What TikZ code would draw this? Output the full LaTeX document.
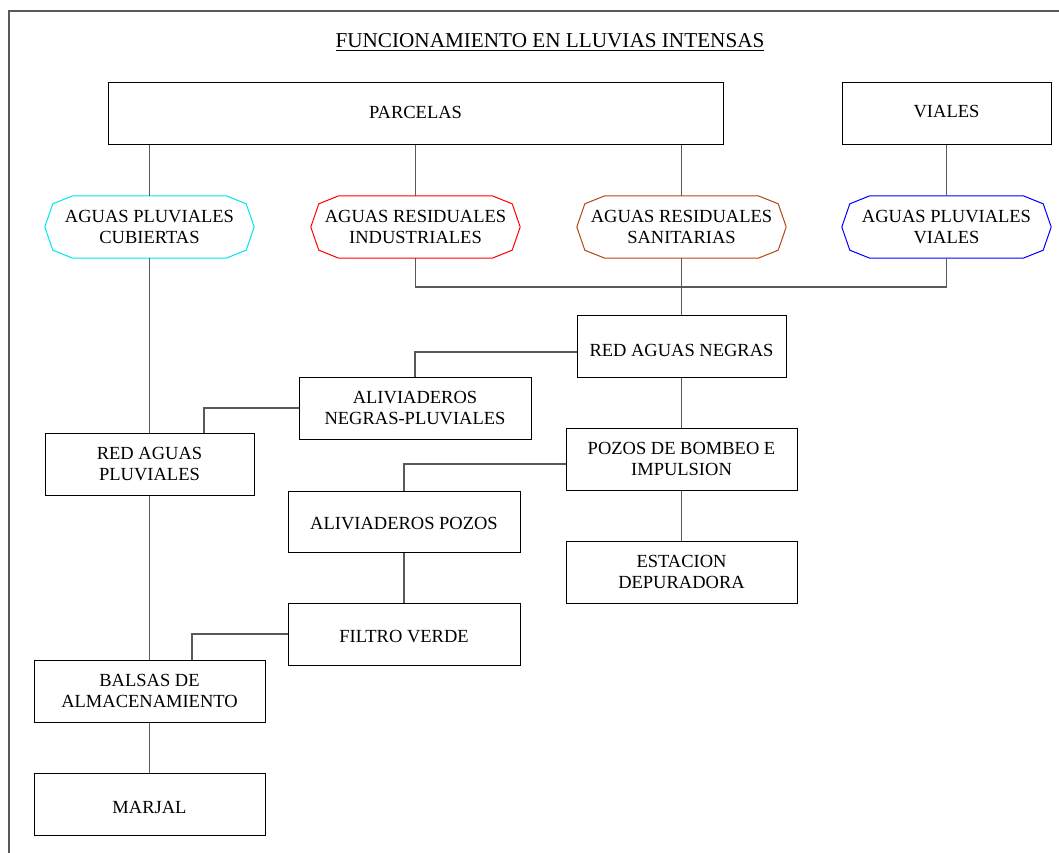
\documentclass[tikz,border=0pt]{standalone}
\usepackage{fontspec}
\setmainfont{Liberation Serif}
\usetikzlibrary{calc}
\definecolor{brownish}{RGB}{180,70,20}
\definecolor{lightcyan}{RGB}{0,230,240}
\newcommand{\mvtxt}[2]{\raisebox{#1}[\height][\depth]{#2}}
\tikzset{
  box/.style={draw=black, line width=1pt, inner sep=0pt, align=center,
    font=\fontsize{18.5}{21}\selectfont},
  octo/.style={draw=none, inner sep=0pt, align=center, minimum width=209pt, minimum height=62pt,
    font=\fontsize{18.5}{21}\selectfont},
  conn/.style={draw=black!65, line width=1.1pt},
  frame/.style={draw=black!65, line width=1.1pt},
  octoline/.style={line width=1pt}
}
\begin{document}
\begin{tikzpicture}[x=1pt,y=-1pt]
\useasboundingbox (0,0) rectangle (1059,853);
\draw[frame] (9,853) -- (9,11) -- (1059,11);

\node[anchor=base, font=\fontsize{21.2}{24}\selectfont] (title) at (550,48) {\underline{FUNCIONAMIENTO EN LLUVIAS INTENSAS}};

% top row
\node[box, minimum width=615pt, minimum height=62pt] (parc) at (415.5,114) {\mvtxt{2pt}{PARCELAS}};
\node[box, minimum width=209pt, minimum height=62pt] (vial) at (946.5,114) {\mvtxt{2pt}{VIALES}};

% octagons
\node[octo] (apc) at (149.5,227) {AGUAS PLUVIALES\\CUBIERTAS};
\node[octo] (ari) at (415.5,227) {AGUAS RESIDUALES\\INDUSTRIALES};
\node[octo] (ars) at (681.5,227) {AGUAS RESIDUALES\\SANITARIAS};
\node[octo] (apv) at (946.5,227) {AGUAS PLUVIALES\\VIALES};
\foreach \n/\c in {apc/lightcyan, ari/red, ars/brownish, apv/blue}
  \draw[octoline, draw=\c] ($(\n.north west)+(28,0)$) -- ($(\n.north west)+(8,8)$) -- (\n.west)
    -- ($(\n.south west)+(8,-8)$) -- ($(\n.south west)+(28,0)$) -- ($(\n.south east)+(-28,0)$)
    -- ($(\n.south east)+(-8,-8)$) -- (\n.east) -- ($(\n.north east)+(-8,8)$)
    -- ($(\n.north east)+(-28,0)$) -- cycle;

% other boxes
\node[box, minimum width=209pt, minimum height=62pt] (ran) at (681.5,346) {\mvtxt{-4pt}{RED AGUAS NEGRAS}};
\node[box, minimum width=232pt, minimum height=62pt] (anp) at (415,408) {ALIVIADEROS\\NEGRAS-PLUVIALES};
\node[box, minimum width=209pt, minimum height=62pt] (rap) at (149.5,464) {RED AGUAS\\PLUVIALES};
\node[box, minimum width=231pt, minimum height=62pt] (poz) at (681.5,459) {POZOS DE BOMBEO E\\IMPULSION};
\node[box, minimum width=232pt, minimum height=61pt] (alp) at (404,521.5) {\mvtxt{-2pt}{ALIVIADEROS POZOS}};
\node[box, minimum width=231pt, minimum height=62pt] (est) at (681.5,572) {ESTACION\\DEPURADORA};
\node[box, minimum width=232pt, minimum height=62pt] (fil) at (404,634) {\mvtxt{-3pt}{FILTRO VERDE}};
\node[box, minimum width=231pt, minimum height=62pt] (bal) at (149.5,691) {BALSAS DE\\ALMACENAMIENTO};
\node[box, minimum width=231pt, minimum height=62pt] (mar) at (149.5,804) {\mvtxt{-3pt}{MARJAL}};

% connectors
\coordinate (bus) at (0,287);
\draw[conn] (apc.north |- parc.south) -- (apc.north);
\draw[conn] (ari.north |- parc.south) -- (ari.north);
\draw[conn] (ars.north |- parc.south) -- (ars.north);
\draw[conn] (vial.south) -- (apv.north);
\draw[conn] (ari.south) |- (bus -| apv.south) -- (apv.south);
\draw[conn] (ars.south) -- (ran.north);
\draw[conn] ([yshift=-6pt]ran.west) -| (anp.north);
\draw[conn] (anp.west) -| ($(rap.north)+(54.5,0)$);
\draw[conn] (apc.south) -- (rap.north);
\draw[conn] (rap.south) -- (bal.north);
\draw[conn] (ran.south) -- (poz.north);
\draw[conn] ([yshift=-5pt]poz.west) -| (alp.north);
\draw[conn] (poz.south) -- (est.north);
\draw[conn] (alp.south) -- (fil.north);
\draw[conn] (fil.west) -| ($(bal.north)+(42.5,0)$);
\draw[conn] (bal.south) -- (mar.north);
\end{tikzpicture}
\end{document}
